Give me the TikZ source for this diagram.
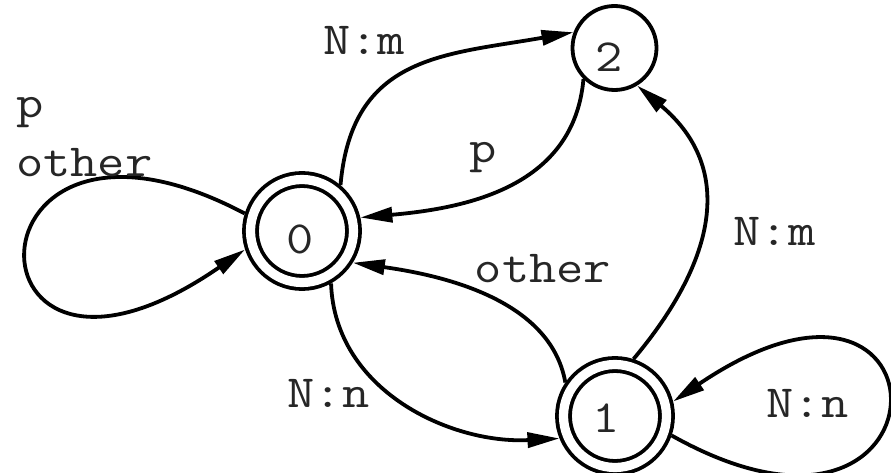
\documentclass[tikz,border=0pt]{standalone}
\usepackage{graphicx}
\usetikzlibrary{arrows.meta}
\newcommand\stretchtxt[1]{\scalebox{1.15}[1]{#1}}
\begin{document}
\begin{tikzpicture}[x=1pt,y=1pt,
  lbl/.style={font=\ttfamily\fontsize{46}{56}\selectfont, text=black!85, inner sep=0pt},
  state/.style={circle, draw, line width=3.8pt, minimum size=84pt, inner sep=0pt},
  accepting/.style={circle, draw, line width=3.8pt, double, double distance=9.2pt, minimum size=103pt, inner sep=0pt, outer sep=8.4pt},
  tr/.style={line width=3.8pt, -{Triangle[length=32pt,width=15pt]}},
]
\useasboundingbox (0,0) rectangle (891,472);
\node[accepting, label={[lbl, name=t0, xshift=-2pt, yshift=-8pt]center:\stretchtxt{0}}] (n0) at (302,241) {};
\node[accepting, label={[lbl, name=t1, xshift=-9pt, yshift=-2pt]center:\stretchtxt{1}}] (n1) at (615,56) {};
\node[state, label={[lbl, name=t2, xshift=-5pt, yshift=-9pt]center:\stretchtxt{2}}] (n2) at (614.5,424) {};

\draw[tr] (n0.50) to[out=85, in=190, looseness=1.2] (n2.159);
\draw[tr] (n2.225) to[out=265, in=5, looseness=1.05] (n0.13);
\draw[tr] (n0.163) .. controls +(-290,153) and +(-290,-200) .. (n0.198);
\draw[tr] (n0.-61) to[out=-88, in=183] (n1.202);
\draw[tr] (n1.146) to[out=100, in=-8, looseness=0.9] (n0.-32);
\draw[tr] (n1.72) to[out=50, in=-40, looseness=1.2] (n2.-59);
\draw[tr] (n1.-19) .. controls +(287,-161) and +(287,194) .. (n1.14);

\node[lbl] (l02) at (364,431.5) {\stretchtxt{N:m}};
\node[lbl] (l20) at (483,314.5) {\stretchtxt{p}};
\node[lbl, anchor=base west] (l00a) at (16,354) {\stretchtxt{p}};
\node[lbl, anchor=base west] (l00b) at (16,295) {\stretchtxt{other}};
\node[lbl] (l01) at (328.5,78.5) {\stretchtxt{N:n}};
\node[lbl] (l10) at (543,203.5) {\stretchtxt{other}};
\node[lbl] (l12) at (774.5,240.5) {\stretchtxt{N:m}};
\node[lbl] (l11) at (807.5,68.5) {\stretchtxt{N:n}};
\end{tikzpicture}
\end{document}
